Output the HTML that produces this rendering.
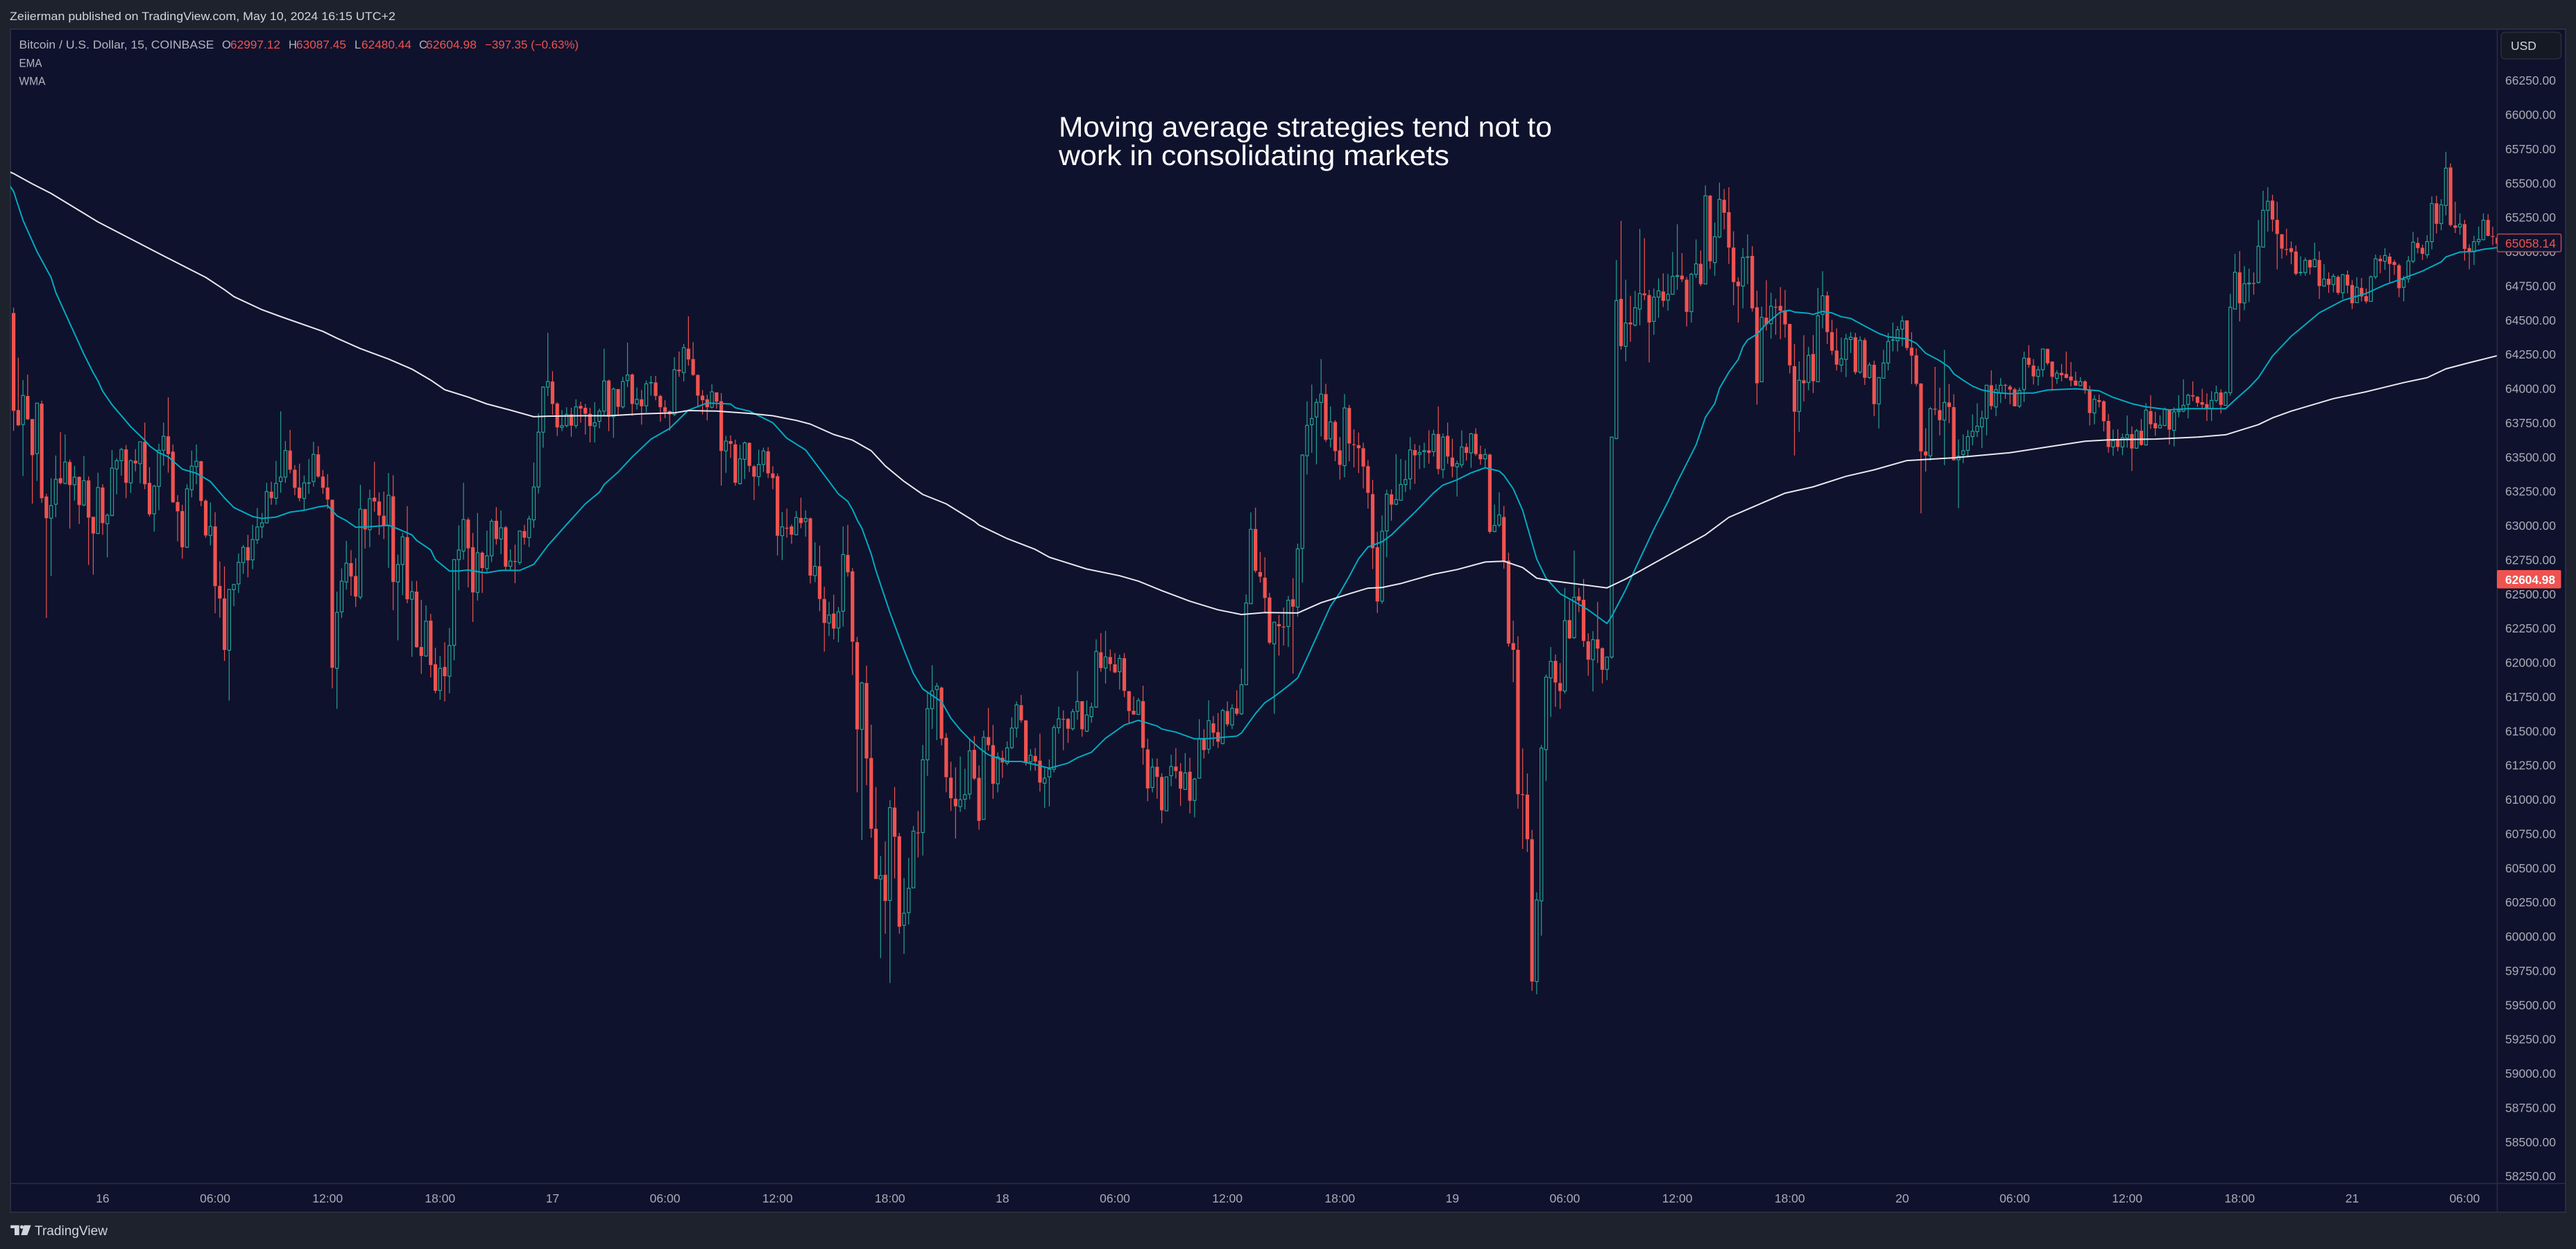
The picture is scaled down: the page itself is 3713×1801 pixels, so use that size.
<!DOCTYPE html>
<html lang="en">
<head>
<meta charset="utf-8">
<title>Bitcoin / U.S. Dollar 15m chart</title>
<style>
html,body{margin:0;padding:0;background:#1e222d;width:3713px;height:1801px;overflow:hidden}
svg{display:block}
text{font-family:"Liberation Sans",sans-serif}
</style>
</head>
<body>
<svg id="chart" xmlns="http://www.w3.org/2000/svg" width="3713" height="1801" viewBox="0 0 3713 1801">
<defs><clipPath id="plot-clip"><rect x="15" y="42" width="3584" height="1664"/></clipPath></defs>
<rect x="0" y="0" width="3713" height="1801" fill="#1e222d"/>
<text x="14" y="29" font-size="17" fill="#d1d4dc" textLength="556" lengthAdjust="spacingAndGlyphs">Zeiierman published on TradingView.com, May 10, 2024 16:15 UTC+2</text>
<rect x="15" y="42" width="3683" height="1706" fill="#0f122d" stroke="#2a2e3c" stroke-width="2"/>
<g id="y-ticks"></g>
<g id="x-ticks"></g>
<g clip-path="url(#plot-clip)">
<g id="candles"></g>
<polyline id="ema-line" fill="none" stroke="#00acc1" stroke-width="2" stroke-linejoin="round"/>
<polyline id="wma-line" fill="none" stroke="#e8e8ee" stroke-width="2" stroke-linejoin="round"/>
</g>
<line x1="3599.5" y1="42" x2="3599.5" y2="1748" stroke="#2a2e3c" stroke-width="1.5"/>
<line x1="15" y1="1706.5" x2="3698" y2="1706.5" stroke="#2a2e3c" stroke-width="1.5"/>
<g font-size="16.5">
<text x="27.5" y="70" fill="#b2b5be" textLength="281" lengthAdjust="spacingAndGlyphs">Bitcoin / U.S. Dollar, 15, COINBASE</text>
<text x="320" y="70" fill="#b2b5be">O</text>
<text x="332" y="70" fill="#ef5350" textLength="72" lengthAdjust="spacingAndGlyphs">62997.12</text>
<text x="416" y="70" fill="#b2b5be">H</text>
<text x="427" y="70" fill="#ef5350" textLength="72" lengthAdjust="spacingAndGlyphs">63087.45</text>
<text x="511" y="70" fill="#b2b5be">L</text>
<text x="521" y="70" fill="#ef5350" textLength="72" lengthAdjust="spacingAndGlyphs">62480.44</text>
<text x="604" y="70" fill="#b2b5be">C</text>
<text x="614" y="70" fill="#ef5350" textLength="73" lengthAdjust="spacingAndGlyphs">62604.98</text>
<text x="699" y="70" fill="#ef5350" textLength="135" lengthAdjust="spacingAndGlyphs">−397.35 (−0.63%)</text>
<text x="27.5" y="96.5" fill="#b2b5be" textLength="33" lengthAdjust="spacingAndGlyphs">EMA</text>
<text x="27.5" y="122.5" fill="#b2b5be" textLength="38" lengthAdjust="spacingAndGlyphs">WMA</text>
</g>
<g font-size="41" fill="#ffffff">
<text x="1526" y="197" textLength="711" lengthAdjust="spacingAndGlyphs">Moving average strategies tend not to</text>
<text x="1526" y="238" textLength="563" lengthAdjust="spacingAndGlyphs">work in consolidating markets</text>
</g>
<g>
<rect x="3605" y="46.5" width="86.5" height="38.5" rx="6" fill="#151924" stroke="#2a2e3c" stroke-width="1.5"/>
<text x="3619" y="72" font-size="17.5" fill="#d1d4dc">USD</text>
</g>
<g>
<rect x="3599.5" y="337.5" width="92" height="25.5" rx="2" fill="#0f122d" stroke="#b84a50" stroke-width="1.5"/>
<text x="3611" y="357" font-size="17.5" fill="#ef5350">65058.14</text>
</g>
<g>
<rect x="3599" y="822" width="92.5" height="26.5" rx="2" fill="#ef5350"/>
<text x="3611" y="842" font-size="17.5" font-weight="700" fill="#ffffff" textLength="72" lengthAdjust="spacingAndGlyphs">62604.98</text>
</g>
<g>
<path fill="#d1d4dc" d="M15.2 1766.7H27.7V1781H21V1771H15.2Z"/>
<circle cx="31.5" cy="1769.2" r="2.6" fill="#d1d4dc"/>
<path fill="#d1d4dc" d="M34.6 1766.7H44.6L39.3 1781H30.4Z"/>
<text x="50" y="1781" font-size="19" fill="#d1d4dc" textLength="105" lengthAdjust="spacingAndGlyphs">TradingView</text>
</g>
</svg>
<script>
const priceTicks = [66250,66000,65750,65500,65250,65000,64750,64500,64250,64000,63750,63500,63250,63000,62750,62500,62250,62000,61750,61500,61250,61000,60750,60500,60250,60000,59750,59500,59250,59000,58750,58500,58250];
const timeTickLabels = ["16","06:00","12:00","18:00","17","06:00","12:00","18:00","18","06:00","12:00","18:00","19","06:00","12:00","18:00","20","06:00","12:00","18:00","21","06:00"];
const timeTickBars = [19,43,67,91,115,139,163,187,211,235,259,283,307,331,355,379,403,427,451,475,499,523];
/* each row: open, high, low, close */
const ohlc = [
[64552,64592,63692,63838],[63844,64226,63726,63732],[63738,64062,63362,63950],[63946,64102,63770,63776],[63778,63778,63160,63514],[63526,63894,63326,63894],[63890,63912,63166,63200],[63212,63232,62326,63054],[63054,63346,62632,63146],[63156,63512,63062,63338],
[63346,63682,63300,63310],[63308,63666,63302,63464],[63464,63482,62978,63296],[63298,63436,63182,63354],[63356,63358,63012,63150],[63150,63508,63142,63328],[63330,63358,62712,63058],[63064,63066,62642,62942],[62942,63386,62938,63278],[63278,63302,62932,63018],
[63014,63088,62768,63076],[63074,63552,63068,63420],[63414,63492,63228,63474],[63474,63568,63364,63556],[63556,63588,63200,63312],[63312,63482,63238,63474],[63474,63558,63396,63454],[63452,63612,63308,63612],[63612,63752,63266,63302],[63312,63426,63066,63082],
[63086,63298,62956,63288],[63286,63598,63112,63550],[63550,63752,63438,63652],[63652,63936,63386,63522],[63540,63592,63166,63170],[63172,63222,62886,63104],[63106,63152,62758,62842],[62842,63302,62836,63268],[63262,63548,63206,63434],[63430,63592,63302,63470],
[63470,63472,63142,63180],[63182,63192,62912,62928],[62928,63168,62856,62994],[62994,63098,62360,62558],[62560,62738,62328,62468],[62468,62702,62012,62092],[62090,62538,61722,62534],[62532,62572,62412,62570],[62574,62796,62508,62732],[62730,62858,62648,62842],
[62842,62932,62622,62746],[62750,63006,62682,62898],[62896,63128,62866,62990],[62990,63092,62908,63020],[63020,63312,63016,63248],[63248,63320,63152,63200],[63200,63472,63152,63308],[63322,63834,63240,63354],[63354,63618,63312,63548],[63548,63698,63382,63408],
[63408,63442,63222,63276],[63278,63452,63178,63200],[63198,63366,63112,63312],[63312,63486,63232,63312],[63322,63612,63284,63520],[63520,63580,63348,63358],[63358,63406,63232,63276],[63278,63376,63122,63190],[63188,63192,61812,61962],[61958,62518,61662,62366],
[62370,62688,62326,62594],[62588,62888,62532,62726],[62726,62820,62488,62628],[62632,62762,62406,62482],[62478,63298,62462,63120],[63120,63122,62832,62972],[62970,63262,62842,63196],[63204,63466,63102,63176],[63176,63242,62932,63074],[63072,63248,62902,63002],
[63002,63384,62692,63222],[63214,63368,62382,62588],[62588,62788,62162,62716],[62716,62948,62492,62918],[62916,63142,62432,62462],[62462,62596,62042,62518],[62518,62596,62108,62112],[62114,62458,61918,62048],[62048,62418,62042,62302],[62306,62356,61892,61982],
[61988,62108,61776,61794],[61796,62048,61728,61958],[61968,62148,61716,61900],[61900,62252,61776,62124],[62126,62752,62016,62752],[62752,63002,62528,62822],[62814,63312,62752,63044],[63044,63058,62548,62834],[62842,62946,62296,62512],[62512,63092,62452,62802],
[62802,62812,62508,62690],[62686,62964,62662,62779],[62779,63049,62734,63032],[63035,63135,62861,62902],[62902,63111,62792,62984],[62988,62998,62673,62700],[62703,62827,62673,62741],[62741,62861,62580,62738],[62731,62964,62714,62960],[62960,63005,62861,62912],
[62912,63073,62844,63049],[63042,63460,62984,63282],[63282,63819,63234,63682],[63682,64018,63569,64011],[64011,64408,63946,64052],[64052,64127,63809,63888],[63891,63901,63655,63717],[63717,63843,63689,63730],[63730,63864,63717,63812],[63812,63860,63648,63730],
[63730,63922,63710,63867],[63874,63905,63751,63854],[63860,63888,63665,63816],[63816,63860,63607,63727],[63727,63901,63607,63751],[63761,63854,63710,63836],[63836,64292,63802,64056],[64059,64066,63689,63795],[63795,64008,63641,63997],[63997,63997,63802,63867],
[63867,64086,63854,64052],[64059,64336,64011,64100],[64103,64110,63802,63888],[63888,64008,63847,63922],[63922,63990,63737,63871],[63874,64059,63826,64035],[64045,64093,63949,64045],[64045,64093,63915,63946],[63946,63956,63758,63864],[63864,63915,63785,63830],
[63836,63840,63693,63812],[63812,64230,63799,64138],[64138,64271,64086,64127],[64117,64326,64052,64299],[64292,64528,64168,64213],[64216,64340,64093,64100],[64100,64103,63864,63949],[63949,63990,63812,63915],[63922,63956,63768,63864],[63864,64032,63854,63977],
[63973,63973,63854,63905],[63908,63967,63292,63545],[63545,63655,63385,63617],[63617,63658,63494,63597],[63593,63628,63292,63313],[63306,63590,63299,63487],[63484,63614,63340,63604],[63604,63607,63391,63436],[63433,63443,63186,63357],[63357,63556,63289,63446],
[63446,63569,63391,63545],[63542,63573,63347,63381],[63381,63433,63265,63347],[63361,63381,62782,62926],[62926,63100,62748,62991],[62984,63124,62912,62984],[62994,63008,62868,62933],[62933,63107,62929,63059],[63056,63203,62981,63018],[63029,63111,62919,63053],
[63053,63059,62577,62635],[62635,62878,62587,62703],[62703,62854,62375,62464],[62464,62553,62080,62289],[62289,62443,62193,62347],[62358,62495,62169,62248],[62252,62406,62149,62371],[62375,62994,62262,62789],[62786,63005,62628,62659],[62666,62690,61909,62152],
[62149,62187,61053,61512],[61512,61861,60704,61851],[61851,61978,61105,61300],[61303,61546,60721,60787],[60787,61091,60420,60420],[60420,60588,59842,60444],[60451,60694,60020,60259],[60263,60995,59660,60941],[60941,61091,60424,60728],[60732,60756,60020,60071],
[60081,60427,59873,60170],[60174,60574,60088,60352],[60355,60807,60355,60769],[60759,60917,60578,60759],[60759,61399,60591,61290],[61290,61783,61173,61663],[61663,61981,61516,61793],[61803,61851,61434,61827],[61817,61824,61396,61444],[61451,61485,61053,61163],
[61160,61276,60917,61009],[61006,61235,60715,60951],[60948,61314,60910,60999],[61002,61225,60927,61036],[61040,61447,61002,61355],[61363,61465,61142,61153],[61158,61250,60780,60844],[60855,61504,60853,61454],[61456,61669,61357,61397],[61397,61544,61006,61115],
[61115,61345,61052,61311],[61305,61357,61158,61271],[61266,61424,61250,61377],[61379,61601,61368,61522],[61522,61716,61454,61691],[61689,61763,61560,61578],[61578,61580,61248,61273],[61275,61368,61210,61323],[61318,61377,61210,61278],[61284,61481,61058,61124],
[61119,61232,60939,61156],[61165,61293,60950,61221],[61221,61544,61198,61526],[61524,61678,61481,61589],[61589,61650,61361,61589],[61589,61594,61413,61517],[61517,61662,61504,61641],[61644,61938,61583,61716],[61718,61718,61458,61513],[61499,61723,61492,61617],
[61605,61707,61560,61675],[61675,62170,61669,62082],[62075,62215,61933,61960],[61960,62231,61847,62041],[62041,62096,61938,61989],[61987,62069,61922,61928],[61933,62057,61802,62030],[62032,62069,61748,61793],[61791,61793,61560,61646],[61648,61752,61617,61621],
[61621,61741,61617,61723],[61718,61831,61255,61377],[61366,61443,60988,61081],[61088,61300,61052,61237],[61239,61300,61006,61165],[61165,61192,60826,60921],[60917,61165,60917,61165],[61174,61327,61097,61241],[61241,61375,61153,61208],[61206,61266,60954,61079],
[61074,61339,61070,61194],[61203,61305,60898,60991],[60993,61158,60871,61149],[61156,61587,61153,61440],[61442,61513,61300,61361],[61368,61725,61334,61576],[61556,61610,61391,61488],[61492,61632,61377,61422],[61409,61662,61402,61650],[61646,61716,61533,61549],
[61544,61696,61515,61666],[61666,61797,61612,61626],[61626,61956,61617,61838],[61838,62498,61838,62435],[62430,63097,62426,62973],[62975,63131,62656,62670],[62661,62808,62584,62627],[62620,62769,62362,62471],[62475,62509,62132,62145],[62136,62299,61626,62295],
[62281,62347,62051,62265],[62263,62401,62125,62263],[62263,62487,62114,62455],[62462,62616,61919,62408],[62405,62869,62335,62830],[62833,63522,62582,63515],[63510,63908,63373,63732],[63736,64030,63531,63782],[63793,63926,63447,63899],[63899,64216,63651,63960],
[63960,64035,63610,63626],[63633,63870,63571,63757],[63757,63770,63470,63544],[63549,63646,63336,63443],[63438,63960,63352,63859],[63859,63881,63470,63599],[63594,63703,63425,63594],[63587,63680,63384,63565],[63565,63605,63271,63431],[63434,63477,63124,63239],
[63230,63334,62683,62835],[62842,62955,62362,62446],[62448,63074,62430,62959],[62961,63262,62769,63230],[63228,63264,63036,63153],[63156,63522,63149,63190],[63185,63486,63181,63300],[63300,63477,63244,63336],[63341,63646,63262,63553],[63551,63594,63305,63513],
[63520,63587,63413,63533],[63540,63605,63420,63547],[63549,63696,63452,63531],[63540,63700,63504,63666],[63669,63870,63375,63413],[63409,63673,63345,63646],[63655,63752,63452,63504],[63497,63635,63352,63431],[63429,63475,63212,63453],[63444,63695,63422,63574],
[63574,63602,63475,63531],[63531,63677,63422,63670],[63670,63711,63509,63522],[63522,63584,63444,63484],[63488,63562,63422,63519],[63519,63525,62942,62954],[62957,63153,62951,63001],[63004,63243,62988,63078],[63063,63143,62685,62740],[62744,62802,62117,62139],
[62142,62306,61857,62093],[62093,62192,60933,61039],[61039,61373,60639,61039],[61036,61190,60617,60710],[60710,60778,59603,59671],[59671,60322,59578,60267],[60260,61398,60006,61376],[61364,61913,61135,61894],[61888,62114,61603,62009],[62012,62058,61677,61854],
[61851,61996,61662,61792],[61792,62545,61773,62306],[62310,62455,62173,62176],[62182,62818,62173,62477],[62483,62545,62368,62452],[62458,62610,62114,62158],[62155,62213,61903,62021],[62021,62229,61789,62167],[62170,62443,61996,62102],[62105,62111,61848,61947],
[61950,62043,61872,62040],[62040,63650,62027,63646],[63636,64938,63630,64643],[64655,65225,64285,64310],[64309,64795,64199,64479],[64483,64677,64342,64469],[64464,64714,64454,64591],[64581,65166,64462,64694],[64695,65099,64646,64682],[64683,64721,64191,64483],
[64491,64731,64393,64668],[64668,64805,64518,64714],[64709,64842,64596,64641],[64646,64837,64569,64689],[64689,64997,64685,64820],[64819,65200,64722,64825],[64825,64989,64778,64798],[64795,64815,64454,64560],[64562,64846,64483,64835],[64835,65089,64808,64911],
[64911,65009,64748,64763],[64764,65484,64764,65408],[65409,65413,64874,64930],[64920,65212,64824,65109],[65107,65504,65099,65382],[65379,65457,65163,65284],[65288,65470,64910,65030],[65030,65149,64609,64778],[64781,64812,64483,64748],[64749,65026,64586,64957],
[64960,65126,64763,64962],[64969,65040,64562,64586],[64594,64716,63883,64039],[64050,64599,64048,64521],[64518,64791,64424,64469],[64474,64700,64364,64602],[64597,64655,64393,64597],[64604,64741,64361,64569],[64572,64721,64373,64469],[64472,64474,64111,64170],
[64164,64326,63512,63831],[63833,64199,63684,64061],[64061,64390,63907,64039],[64045,64305,63988,64243],[64253,64391,63968,64054],[64050,64736,64048,64532],[64542,64857,64440,64678],[64680,64710,64326,64413],[64412,64503,64246,64277],[64278,64440,64133,64175],
[64172,64373,64120,64218],[64213,64400,64084,64364],[64359,64412,64260,64375],[64375,64407,64103,64120],[64121,64381,64108,64353],[64354,64370,64027,64079],[64081,64192,64072,64172],[64174,64204,63799,63887],[63888,64083,63709,64081],[64076,64283,64076,64187],
[64187,64407,64133,64344],[64353,64483,64272,64356],[64349,64457,64272,64430],[64434,64533,64309,64494],[64498,64499,64280,64297],[64299,64412,64032,64241],[64243,64294,64018,64035],[64037,64040,63090,63542],[63541,63711,63394,63512],[63509,63866,63475,63853],
[63853,64159,63807,63853],[63843,64007,63659,63770],[63770,64283,63441,63899],[63899,64032,63748,63866],[63865,63959,63475,63477],[63480,63630,63127,63507],[63519,63666,63456,63546],[63549,63698,63498,63650],[63650,63812,63586,63689],[63686,63893,63647,63726],
[63721,63839,63566,63785],[63782,64027,63659,64025],[64025,64133,63846,63872],[63866,64032,63799,63993],[63968,64077,63895,64025],[64027,64035,63926,64027],[64015,64027,63887,63993],[63995,64008,63869,63871],[63872,64008,63858,63986],[63993,64270,63903,64223],
[64225,64317,64153,64174],[64169,64216,64030,64089],[64089,64165,64022,64138],[64138,64292,64086,64290],[64290,64292,64171,64185],[64198,64198,63984,64086],[64075,64135,64035,64113],[64115,64180,64053,64098],[64107,64270,64075,64078],[64088,64194,64017,64059],
[64059,64124,64021,64022],[64022,64084,64017,64051],[64053,64062,63963,63988],[63992,64022,63731,63822],[63822,63952,63740,63923],[63916,63957,63863,63903],[63907,63916,63688,63762],[63764,63815,63532,63574],[63574,63701,63511,63619],[63625,63703,63543,63574],
[63574,63673,63514,63641],[63639,63804,63569,63664],[63668,63724,63399,63563],[63565,63706,63561,63692],[63693,63778,63583,63589],[63589,63894,63583,63843],[63836,63952,63706,63740],[63748,63831,63655,63710],[63713,63805,63710,63733],[63731,63862,63724,63851],
[63842,63845,63592,63701],[63695,63863,63579,63831],[63831,63952,63791,63840],[63836,64068,63827,63878],[63885,63963,63782,63952],[63952,64053,63909,63943],[63941,63945,63867,63896],[63901,63999,63854,63883],[63887,63966,63764,63854],[63856,63981,63764,63914],
[63914,64022,63899,63970],[63972,63995,63818,63881],[63878,63981,63876,63970],[63970,64691,63948,64594],[64581,64984,64581,64850],[64849,65004,64491,64623],[64626,64894,64572,64766],[64764,64876,64632,64771],[64771,64849,64686,64769],[64775,65232,64767,65039],
[65033,65445,65033,65302],[65302,65471,65147,65368],[65373,65415,65147,65234],[65232,65364,64870,65129],[65127,65129,64950,65022],[65019,65167,64972,65019],[65026,65075,64908,64997],[65001,65044,64827,64838],[64847,64966,64825,64849],[64847,64957,64825,64937],
[64939,64944,64832,64885],[64890,65066,64885,64943],[64939,65002,64655,64749],[64749,64908,64744,64800],[64802,64849,64699,64758],[64760,64838,64704,64820],[64816,64827,64686,64700],[64700,64836,64655,64832],[64832,64863,64695,64753],[64756,64793,64581,64623],
[64628,64813,64626,64740],[64735,64807,64637,64673],[64675,64731,64623,64637],[64637,64827,64637,64816],[64816,64979,64800,64948],[64948,64975,64843,64930],[64930,65026,64867,64972],[64964,64990,64776,64910],[64925,64939,64831,64903],[64901,64912,64668,64733],
[64740,64822,64637,64796],[64802,64968,64773,64932],[64930,65145,64916,65069],[65064,65105,64988,65026],[65028,65051,64939,64984],[64977,65120,64952,65073],[65073,65404,65017,65351],[65353,65409,65133,65203],[65205,65382,65156,65342],[65337,65729,65265,65610],
[65615,65644,65183,65194],[65192,65364,65136,65174],[65180,65279,65124,65201],[65201,65232,64935,65020],[65026,65053,64870,64997],[64999,65116,64903,65073],[65073,65183,65048,65089],[65087,65279,65084,65230],[65232,65274,65111,65116],[65114,65181,65048,65113],
[65102,65129,65020,65058]
];
const emaBars = [-1,0,2,5,8,9,11,13,15,17,18,19,21,25,28,29,31,33,36,39,42,45,47,51,53,56,59,62,65,67,69,71,73,76,80,82,85,86,89,90,93,95,97,100,101,104,108,111,114,118,122,125,126,129,132,136,140,144,148,153,154,157,160,162,165,169,171,176,178,179,180,181,183,184,186,187,190,192,194,198,200,202,204,206,208,212,215,218,221,225,227,230,233,237,240,244,245,248,252,255,261,262,265,267,269,272,274,276,279,281,283,285,287,289,292,294,296,299,303,305,308,311,314,317,318,320,322,325,327,330,333,336,340,341,344,347,350,353,355,357,359,361,363,364,366,368,369,370,372,374,377,379,380,383,384,386,388,390,392,395,398,400,404,406,408,411,413,414,416,418,420,423,426,429,431,434,440,445,448,452,455,460,464,472,474,477,479,482,486,490,492,497,502,506,509,514,518,519,522,525,527,530];
const emaValues = [65490,65440,65230,65000,64812,64702,64552,64402,64252,64116,64056,63982,63882,63722,63622,63582,63532,63502,63412,63382,63322,63202,63132,63066,63052,63062,63098,63112,63136,63146,63072,63036,62988,62992,63002,62976,62932,62892,62822,62752,62668,62668,62676,62658,62656,62673,62673,62717,62854,63008,63159,63244,63299,63391,63501,63631,63710,63843,63895,63888,63860,63836,63785,63751,63638,63552,63460,63231,63176,63118,63042,62981,62792,62673,62467,62365,62091,61920,61807,61714,61594,61509,61440,61377,61327,61278,61278,61255,61228,61266,61305,61345,61447,61544,61578,61537,61515,61492,61443,61445,61463,61486,61628,61707,61752,61831,61888,62035,62261,62412,62509,62629,62758,62844,62882,62932,63000,63097,63239,63296,63334,63385,63422,63398,63367,63268,63112,62756,62616,62502,62446,62384,62285,62337,62533,62756,62973,63174,63318,63453,63588,63791,63892,64002,64120,64213,64305,64356,64398,64474,64559,64572,64559,64550,64542,64564,64553,64525,64513,64457,64403,64378,64364,64331,64258,64204,64157,64108,64061,64018,63990,63971,63963,63968,63968,63990,63999,63984,63936,63890,63867,63845,63854,63854,63918,64008,64080,64238,64382,64496,64554,64644,64695,64758,64794,64858,64925,64961,64997,65002,65017,65030];
const wmaBars = [-1,0,4,8,18,32,41,45,47,53,57,66,69,74,80,85,89,92,97,101,106,111,114,121,127,134,141,144,150,157,162,167,170,175,179,183,186,190,194,199,205,206,212,218,221,229,236,240,245,251,257,262,267,274,279,285,289,292,296,303,308,314,318,322,325,328,333,340,344,350,361,366,371,378,384,391,397,404,414,426,433,442,447,457,466,472,479,482,486,495,502,510,515,519,524,530];
const wmaValues = [65585,65570,65495,65425,65217,64969,64812,64722,64672,64576,64526,64418,64368,64292,64216,64142,64062,63992,63938,63888,63843,63795,63799,63802,63802,63816,63823,63840,63836,63819,63802,63768,63741,63665,63624,63546,63436,63323,63227,63159,63032,63004,62905,62826,62769,62683,62634,62595,62525,62448,62385,62351,62365,62362,62437,62502,62543,62548,62577,62645,62679,62734,62740,62694,62616,62598,62576,62545,62610,62725,62933,63060,63134,63237,63283,63360,63407,63475,63495,63532,63569,63616,63626,63632,63646,63663,63737,63786,63836,63927,63977,64044,64080,64144,64189,64241];

const SVG_NS = 'http://www.w3.org/2000/svg';
const barX = function (bar) { return 19.6 + 6.755 * bar; };
const priceY = function (price) { return 116 + (66250 - price) * 0.1975; };

const yTicksGroup = document.getElementById('y-ticks');
priceTicks.forEach(function (price) {
  const t = document.createElementNS(SVG_NS, 'text');
  
  
  t.setAttribute('x', 3611);
  t.setAttribute('y', priceY(price) + 6.2);
  t.setAttribute('font-size', '17.5');
  t.setAttribute('fill', '#a9abb6');
  t.textContent = price.toFixed(2);
  yTicksGroup.appendChild(t);
});

const xTicksGroup = document.getElementById('x-ticks');
timeTickLabels.forEach(function (label, i) {
  const t = document.createElementNS(SVG_NS, 'text');
  
  
  t.setAttribute('x', barX(timeTickBars[i]));
  t.setAttribute('y', 1734.2);
  t.setAttribute('text-anchor', 'middle');
  t.setAttribute('font-size', '17.5');
  t.setAttribute('fill', '#a9abb6');
  t.textContent = label;
  xTicksGroup.appendChild(t);
});

const candleGroup = document.getElementById('candles');
ohlc.forEach(function (row, i) {
  const open = row[0], high = row[1], low = row[2], close = row[3];
  const up = close >= open && !(close === open && i % 2 === 0 && false);
  const color = close > open ? '#22a394' : (close < open ? '#ef5350' : (i === 63 || i === 136 ? '#22a394' : '#ef5350'));
  const x = barX(i);
  const top = priceY(Math.max(open, close));
  const bottom = priceY(Math.min(open, close));
  const wick = document.createElementNS(SVG_NS, 'path');
  
  
  wick.setAttribute('d', 'M' + x + ' ' + priceY(high) + 'V' + top + 'M' + x + ' ' + bottom + 'V' + priceY(low));
  wick.setAttribute('stroke', color);
  wick.setAttribute('stroke-width', '1.2');
  wick.setAttribute('fill', 'none');
  candleGroup.appendChild(wick);
  const body = document.createElementNS(SVG_NS, 'rect');
  
  
  if (color === '#22a394') {
    body.setAttribute('x', x - 2.1);
    body.setAttribute('width', 4.2);
    body.setAttribute('y', top);
    body.setAttribute('height', Math.max(bottom - top, 0.6));
    body.setAttribute('fill', 'none');
    body.setAttribute('stroke', color);
    body.setAttribute('stroke-width', '1.2');
  } else {
    body.setAttribute('x', x - 2.6);
    body.setAttribute('width', 5.2);
    body.setAttribute('y', top);
    body.setAttribute('height', Math.max(bottom - top, 1.2));
    body.setAttribute('fill', color);
  }
  candleGroup.appendChild(body);
});

const buildPoints = function (bars, values) {
  return bars.map(function (bar, i) {
    return barX(bar).toFixed(1) + ',' + priceY(values[i]).toFixed(1);
  }).join(' ');
};
document.getElementById('ema-line').setAttribute('points', buildPoints(emaBars, emaValues));
document.getElementById('wma-line').setAttribute('points', buildPoints(wmaBars, wmaValues));
</script>
</body>
</html>
